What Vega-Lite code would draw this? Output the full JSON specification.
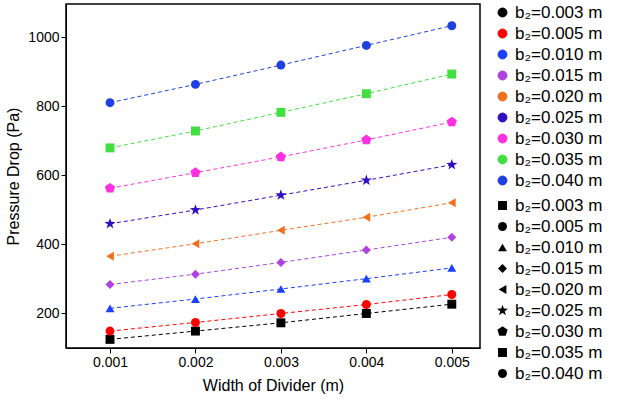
{"$schema":"https://vega.github.io/schema/vega-lite/v6.json","width":414,"height":344,"autosize":"none","padding":{"left":66,"top":4,"right":160,"bottom":54},
"config":{"font":"Liberation Sans","view":{"stroke":"black","strokeWidth":1.5},"legend":{"title":null,"labelFontSize":17,"symbolSize":80,"labelColor":"black","offset":14,"rowPadding":3,"symbolStrokeWidth":1,"symbolType":"circle"}},
"data":{"values":[
{"x":0.001,"p":124,"s":"b₂=0.003 m"},{"x":0.002,"p":148,"s":"b₂=0.003 m"},{"x":0.003,"p":172,"s":"b₂=0.003 m"},{"x":0.004,"p":199,"s":"b₂=0.003 m"},{"x":0.005,"p":226,"s":"b₂=0.003 m"},
{"x":0.001,"p":148,"s":"b₂=0.005 m"},{"x":0.002,"p":173,"s":"b₂=0.005 m"},{"x":0.003,"p":199,"s":"b₂=0.005 m"},{"x":0.004,"p":225,"s":"b₂=0.005 m"},{"x":0.005,"p":254,"s":"b₂=0.005 m"},
{"x":0.001,"p":214,"s":"b₂=0.010 m"},{"x":0.002,"p":241,"s":"b₂=0.010 m"},{"x":0.003,"p":270,"s":"b₂=0.010 m"},{"x":0.004,"p":300,"s":"b₂=0.010 m"},{"x":0.005,"p":331,"s":"b₂=0.010 m"},
{"x":0.001,"p":283,"s":"b₂=0.015 m"},{"x":0.002,"p":313,"s":"b₂=0.015 m"},{"x":0.003,"p":347,"s":"b₂=0.015 m"},{"x":0.004,"p":383,"s":"b₂=0.015 m"},{"x":0.005,"p":420,"s":"b₂=0.015 m"},
{"x":0.001,"p":365,"s":"b₂=0.020 m"},{"x":0.002,"p":401,"s":"b₂=0.020 m"},{"x":0.003,"p":440,"s":"b₂=0.020 m"},{"x":0.004,"p":478,"s":"b₂=0.020 m"},{"x":0.005,"p":520,"s":"b₂=0.020 m"},
{"x":0.001,"p":459,"s":"b₂=0.025 m"},{"x":0.002,"p":499,"s":"b₂=0.025 m"},{"x":0.003,"p":542,"s":"b₂=0.025 m"},{"x":0.004,"p":585,"s":"b₂=0.025 m"},{"x":0.005,"p":630,"s":"b₂=0.025 m"},
{"x":0.001,"p":562,"s":"b₂=0.030 m"},{"x":0.002,"p":607,"s":"b₂=0.030 m"},{"x":0.003,"p":653,"s":"b₂=0.030 m"},{"x":0.004,"p":702,"s":"b₂=0.030 m"},{"x":0.005,"p":754,"s":"b₂=0.030 m"},
{"x":0.001,"p":679,"s":"b₂=0.035 m"},{"x":0.002,"p":728,"s":"b₂=0.035 m"},{"x":0.003,"p":782,"s":"b₂=0.035 m"},{"x":0.004,"p":836,"s":"b₂=0.035 m"},{"x":0.005,"p":893,"s":"b₂=0.035 m"},
{"x":0.001,"p":810,"s":"b₂=0.040 m"},{"x":0.002,"p":863,"s":"b₂=0.040 m"},{"x":0.003,"p":919,"s":"b₂=0.040 m"},{"x":0.004,"p":976,"s":"b₂=0.040 m"},{"x":0.005,"p":1033,"s":"b₂=0.040 m"}
]},
"encoding":{
"x":{"field":"x","type":"quantitative","scale":{"domain":[0.000485,0.00533],"nice":false,"zero":false},"axis":{"values":[0.001,0.002,0.003,0.004,0.005],"format":".3f","title":"Width of Divider (m)","grid":false,"labelFontSize":14,"titleFontSize":16,"titleFontWeight":"normal","labelColor":"black","titleColor":"black","domainColor":"black","tickColor":"black","titlePadding":8}},
"y":{"field":"p","type":"quantitative","scale":{"domain":[99,1096],"nice":false,"zero":false},"axis":{"values":[200,400,600,800,1000],"format":"d","title":"Pressure Drop (Pa)","grid":false,"labelFontSize":14,"titleFontSize":16,"titleFontWeight":"normal","labelColor":"black","titleColor":"black","domainColor":"black","tickColor":"black","titlePadding":6}},
"color":{"field":"s","type":"nominal","scale":{"range":["#000000","#ff0000","#1a3fff","#b040e0","#f07020","#3010c0","#ff30e0","#40e040","#2040e0"]},"legend":{}}
},
"layer":[
{"mark":{"type":"line","strokeDash":[4,3],"strokeWidth":1}},
{"mark":{"type":"point","filled":true,"size":80,"opacity":1},"encoding":{"shape":{"field":"s","type":"nominal","scale":{"range":["square","circle","triangle-up","diamond","triangle-left","M0,-1.3L0.3,-0.43L1.24,-0.4L0.49,0.16L0.77,1.05L0,0.52L-0.77,1.05L-0.49,0.16L-1.24,-0.4L-0.3,-0.43Z","M0,-1.2L1.14,-0.37L0.71,0.97L-0.71,0.97L-1.14,-0.37Z","square","circle"]},"legend":{}}}}
]}
